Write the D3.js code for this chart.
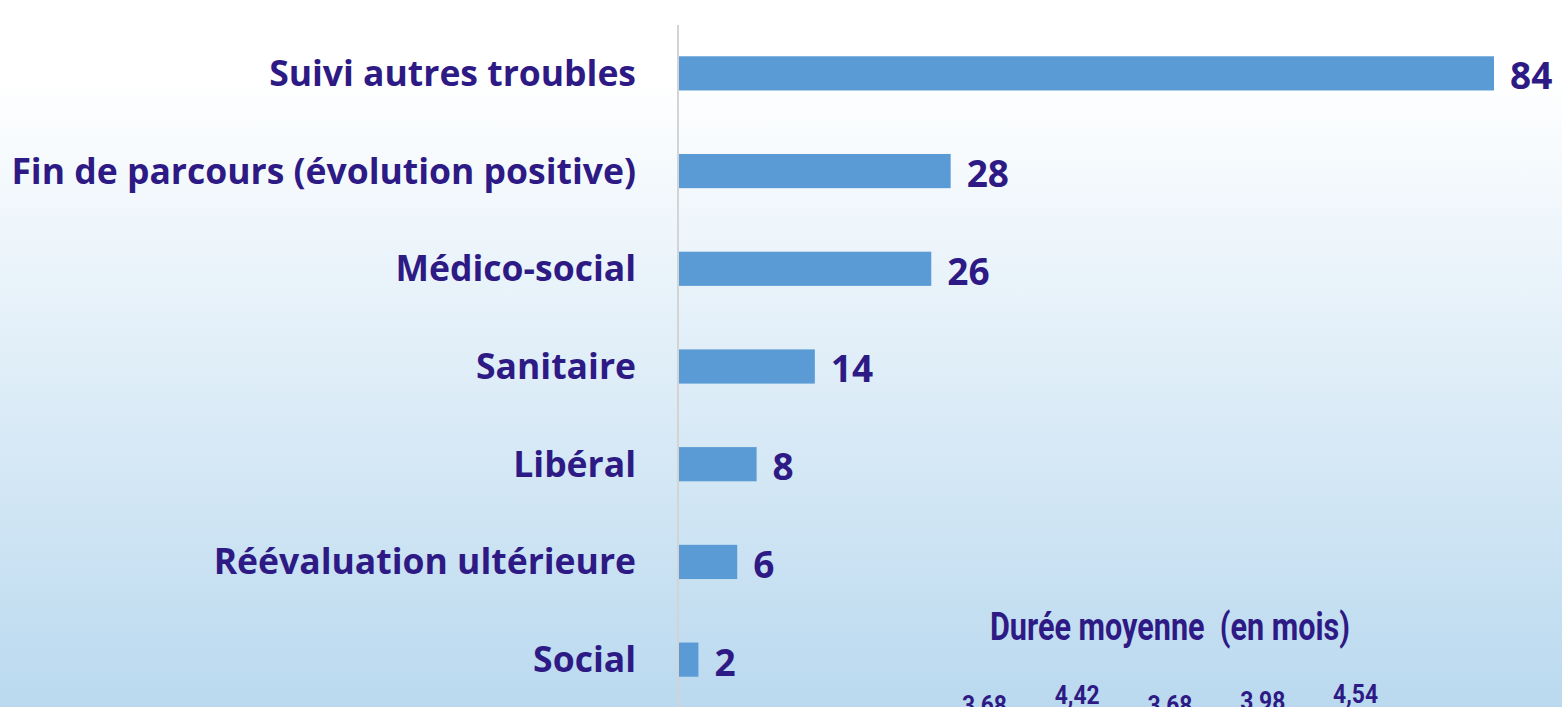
<!DOCTYPE html>
<html>
<head>
<meta charset="utf-8">
<script src="https://cdn.jsdelivr.net/npm/d3@7"></script>
<style>
  body { margin: 0; overflow: hidden; }
  svg { display: block; }
</style>
</head>
<body>
<div id="chart"></div>
<script>
// orientation data (bars)
var categories = ["Suivi autres troubles", "Fin de parcours (évolution positive)", "Médico-social",
  "Sanitaire", "Libéral", "Réévaluation ultérieure", "Social"];
var counts = [84, 28, 26, 14, 8, 6, 2];

// second chart, mostly cut off at the bottom
var durationTitle = "Durée moyenne  (en mois)";
var durationGroups = ["g1", "g2", "g3", "g4", "g5"];
var durationValues = [3.68, 4.42, 3.68, 3.98, 4.54];

var svgWidth = 1562;
var svgHeight = 707;

var margin = { top: 25, right: 68, bottom: 0, left: 678 };

var svg = d3.select("#chart")
  .append("svg")
  .attr("width", svgWidth)
  .attr("height", svgHeight);

var defs = svg.append("defs");
var grad = defs.append("linearGradient")
  .attr("id", "bg")
  .attr("x1", 0).attr("y1", 0).attr("x2", 0).attr("y2", 1);
grad.append("stop").attr("offset", "0%").attr("stop-color", "#ffffff");
grad.append("stop").attr("offset", "11%").attr("stop-color", "#ffffff");
grad.append("stop").attr("offset", "100%").attr("stop-color", "#bad9ef");

svg.append("rect")
  .attr("width", svgWidth)
  .attr("height", svgHeight)
  .attr("fill", "url(#bg)");

var xScale = d3.scaleLinear()
  .domain([0, 84])
  .range([margin.left + 1, 1494]);

var yScale = d3.scaleBand()
  .domain(categories)
  .range([25, 708])
  .paddingInner(0.65)
  .paddingOuter(0.32);

var textColor = "#2e1a84";

// axis line
svg.append("line")
  .attr("x1", margin.left).attr("x2", margin.left)
  .attr("y1", margin.top).attr("y2", svgHeight)
  .attr("stroke", "#d4d4d4")
  .attr("stroke-width", 2);

svg.selectAll("rect.bar")
  .data(counts)
  .enter()
  .append("rect")
  .attr("class", "bar")
  .attr("x", xScale(0))
  .attr("y", (d, i) => yScale(categories[i]))
  .attr("width", d => xScale(d) - xScale(0))
  .attr("height", yScale.bandwidth())
  .attr("fill", "#5b9bd5");

svg.selectAll("text.cat")
  .data(categories)
  .enter()
  .append("text")
  .attr("class", "cat")
  .attr("x", 636)
  .attr("y", d => yScale(d) + yScale.bandwidth() / 2)
  .attr("dy", "0.35em")
  .attr("text-anchor", "end")
  .style("font-family", "'Open Sans', sans-serif")
  .style("font-weight", "bold")
  .style("font-size", "35.5px")
  .style("fill", textColor)
  .text(d => d);

svg.selectAll("text.val")
  .data(counts)
  .enter()
  .append("text")
  .attr("class", "val")
  .attr("x", d => xScale(d) + 16)
  .attr("y", (d, i) => yScale(categories[i]) + yScale.bandwidth() / 2 + 3)
  .attr("dy", "0.35em")
  .style("font-family", "'Open Sans', sans-serif")
  .style("font-weight", "bold")
  .style("font-size", "37px")
  .style("fill", textColor)
  .text(d => d);

// duration chart labels
var dx = d3.scaleBand()
  .domain(durationGroups)
  .range([938, 1402]);

var dy = d3.scaleLinear()
  .domain([0, 5])
  .range([761, 697]);

svg.append("text")
  .attr("x", 990)
  .attr("y", 640)
  .attr("textLength", 360)
  .attr("lengthAdjust", "spacingAndGlyphs")
  .style("white-space", "pre")
  .style("font-family", "'Liberation Sans Narrow', 'Roboto', sans-serif")
  .style("font-weight", "bold")
  .style("font-size", "38px")
  .style("fill", textColor)
  .text(durationTitle);

svg.selectAll("text.dur")
  .data(durationValues)
  .enter()
  .append("text")
  .attr("class", "dur")
  .attr("x", (d, i) => dx(durationGroups[i]) + dx.bandwidth() / 2 - 22.5)
  .attr("y", d => dy(d))
  .attr("textLength", 45)
  .attr("lengthAdjust", "spacingAndGlyphs")
  .style("font-family", "'Liberation Sans Narrow', 'Roboto', sans-serif")
  .style("font-weight", "bold")
  .style("font-size", "26px")
  .style("fill", textColor)
  .text(d => d3.format(".2f")(d).replace(".", ","));
</script>
</body>
</html>
